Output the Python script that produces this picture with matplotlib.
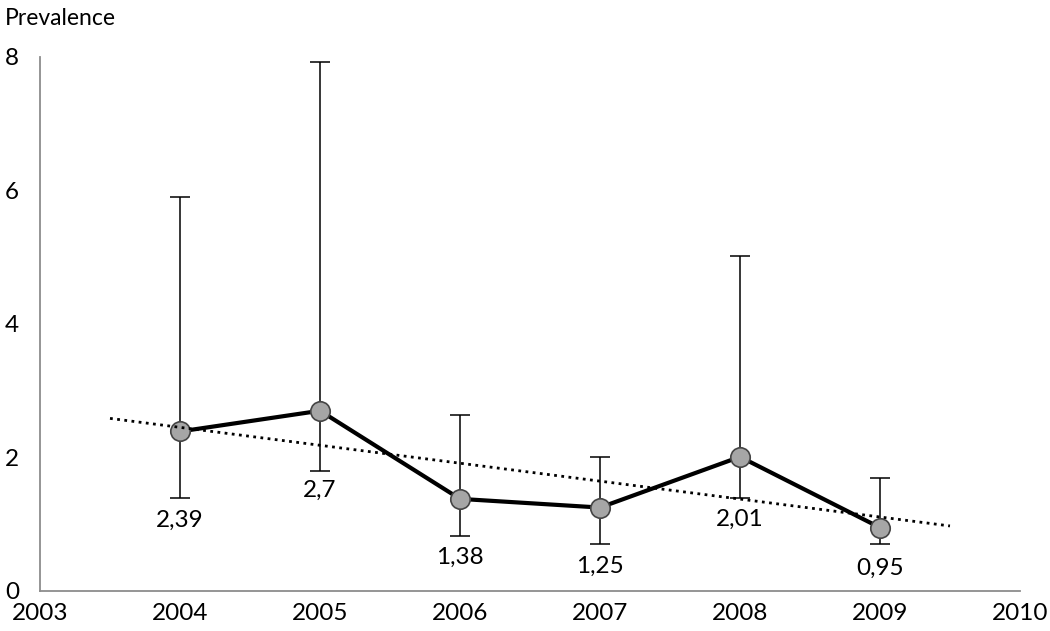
import numpy as np
import matplotlib; matplotlib.use("Agg"); import matplotlib.pyplot as plt

plt.rcParams['font.family'] = ['Lato', 'DejaVu Sans']

years = [2004, 2005, 2006, 2007, 2008, 2009]
prev = [2.39, 2.7, 1.38, 1.25, 2.01, 0.95]
upper = [5.9, 7.92, 2.63, 2.0, 5.02, 1.69]
lower = [1.4, 1.8, 0.82, 0.7, 1.4, 0.7]
labels = ["2,39", "2,7", "1,38", "1,25", "2,01", "0,95"]
xticks = [2003, 2004, 2005, 2006, 2007, 2008, 2009, 2010]
yticks = [0, 2, 4, 6, 8]

# label offsets below the point, in points
lab_off = [-64, -57, -42, -42, -45, -29]

fig = plt.figure(figsize=(10.5, 6.31), dpi=100)
ax = fig.add_axes([0.0381, 0.0634, 0.9333, 0.8463])

y = np.array(prev)
err = [y - np.array(lower), np.array(upper) - y]
ax.errorbar(years, prev, yerr=err, fmt='none', ecolor='black', elinewidth=1.1,
            capsize=7, capthick=1.1, zorder=2)
ax.plot(years, prev, color='black', lw=3, zorder=3)
ax.plot(years, prev, 'o', ms=14, mfc='#a6a6a6', mec='#444444', mew=1.2, zorder=4)

# linear trend
k, b = np.polyfit(years, prev, 1)
tx = np.array([2003.5, 2009.5])
ax.plot(tx, k * tx + b, color='black', lw=2, ls=(0, (1, 1.6)), zorder=5)

for xv, yv, t, off in zip(years, prev, labels, lab_off):
    ax.annotate(t, (xv, yv), xytext=(0, off), textcoords='offset points',
                ha='center', va='center', fontsize=17.5)

ax.set_xlim(2003, 2010)
ax.set_ylim(0, 8)
ax.set_xticks(xticks)
ax.set_xticklabels([str(v) for v in xticks])
ax.set_yticks(yticks)
ax.tick_params(length=0, labelsize=17.5, pad=9)
ax.tick_params(axis='y', pad=15)
for s in ['top', 'right']:
    ax.spines[s].set_visible(False)
for s in ['left', 'bottom']:
    ax.spines[s].set_color('#8c8c8c')
    ax.spines[s].set_linewidth(1.3)

fig.text(0.005, 0.971, "Prevalence", fontsize=16.5, ha='left', va='center')

fig.savefig("out.png", dpi=100)
